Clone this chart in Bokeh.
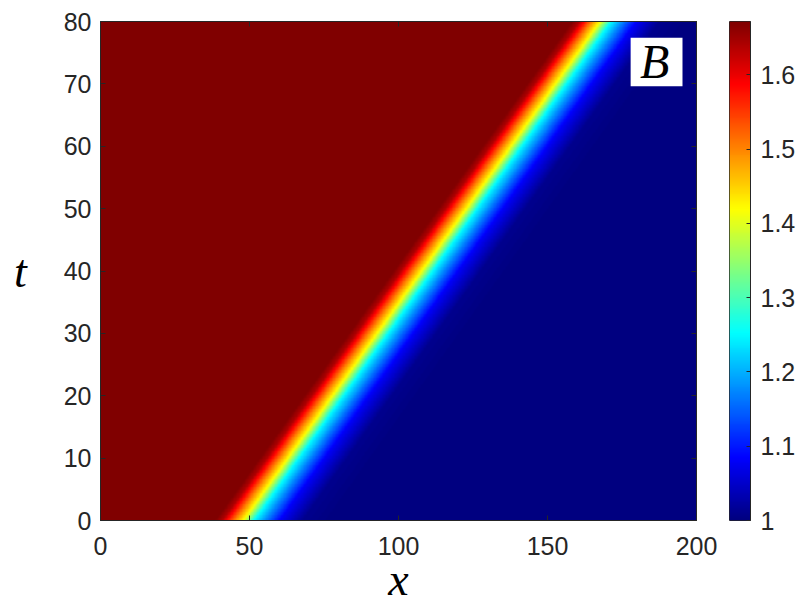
import numpy as np
from bokeh.plotting import figure
from bokeh.layouts import row
from bokeh.models import (LinearColorMapper, FixedTicker, LinearAxis, Label,
                          BoxAnnotation, Range1d, CustomJSTickFormatter)
from bokeh.embed import file_html
from bokeh.resources import INLINE

# ---- data ----
x_min, x_max = 0, 200
t_min, t_max = 0, 80
b_low, b_high = 1.0, 1.672
# front (yellow centre) position at t = 0 and t = 80
front_t = [0, 80]
front_x = [48.0, 167.5]
# profile of B across the front, versus distance from the front centre
profile_offset = [-9.5, -7.0, -5.5, -2.7, 0.0, 3.8, 7.7, 12.4, 20.0, 30.0]
profile_value = [1.672, 1.64, 1.59, 1.50, 1.42, 1.25, 1.17, 1.08, 1.01, 1.0]
x_ticks = [0, 50, 100, 150, 200]
t_ticks = [0, 10, 20, 30, 40, 50, 60, 70, 80]
cb_ticks = [1, 1.1, 1.2, 1.3, 1.4, 1.5, 1.6]

# ---- jet colormap ----
def jet(n=256):
    cols = []
    for i in range(n):
        f = i / (n - 1)
        r = min(max(1.5 - abs(4 * f - 3), 0), 1)
        g = min(max(1.5 - abs(4 * f - 2), 0), 1)
        b = min(max(1.5 - abs(4 * f - 1), 0), 1)
        cols.append("#%02x%02x%02x" % (int(round(r * 255)), int(round(g * 255)), int(round(b * 255))))
    return cols

palette = jet(256)
mapper = LinearColorMapper(palette=palette, low=b_low, high=b_high)

# ---- field ----
nx, nt = 800, 320
xs = np.linspace(x_min, x_max, nx)
ts = np.linspace(t_min, t_max, nt)
X, T = np.meshgrid(xs, ts)
centre = np.interp(T, front_t, front_x)
B = np.interp(X - centre, profile_offset, profile_value)

TXT = "#262626"
FONT = "Liberation Sans"
H = 610

def style_axis(ax, labels=True):
    ax.axis_line_color = TXT
    ax.major_tick_line_color = TXT
    ax.minor_tick_line_color = None
    ax.major_tick_in = 5
    ax.major_tick_out = 0
    ax.major_label_text_color = TXT
    ax.major_label_text_font = FONT
    if labels:
        ax.major_label_text_font_size = "25px"
    else:
        ax.major_label_text_font_size = "1px"
        ax.major_label_standoff = 0
        ax.formatter = CustomJSTickFormatter(code="return '';")

p = figure(width=718, height=H, x_range=Range1d(x_min, x_max), y_range=Range1d(t_min, t_max),
           output_backend="svg", toolbar_location=None,
           min_border_left=100, min_border_right=22, min_border_top=21, min_border_bottom=H - 21 - 499)
p.grid.visible = False
p.outline_line_color = TXT
p.image(image=[B], x=x_min, y=t_min, dw=x_max - x_min, dh=t_max - t_min, color_mapper=mapper)

p.xaxis.ticker = FixedTicker(ticks=x_ticks)
p.yaxis.ticker = FixedTicker(ticks=t_ticks)
style_axis(p.xaxis[0])
style_axis(p.yaxis[0])
p.xaxis.major_label_standoff = 16
p.yaxis.major_label_standoff = 9

for ax in (p.xaxis[0], p.yaxis[0]):
    ax.axis_label_text_font = "Liberation Serif"
    ax.axis_label_text_font_style = "italic"
    ax.axis_label_text_font_size = "46px"
    ax.axis_label_text_color = "black"
p.xaxis.axis_label = "x"
p.xaxis.axis_label_standoff = -4
p.yaxis.axis_label = "t"
p.yaxis.axis_label_orientation = "horizontal"
p.yaxis.axis_label_standoff = 34

top_ax = LinearAxis(ticker=FixedTicker(ticks=x_ticks))
right_ax = LinearAxis(ticker=FixedTicker(ticks=t_ticks))
style_axis(top_ax, labels=False)
style_axis(right_ax, labels=False)
p.add_layout(top_ax, "above")
p.add_layout(right_ax, "right")

p.add_layout(BoxAnnotation(left=177.9, right=195.3, top=77.4, bottom=69.6,
                           fill_color="white", fill_alpha=1.0, line_color=None))
p.add_layout(Label(x=186.0, y=73.6, text="B", text_font="Liberation Serif",
                   text_font_style="italic", text_font_size="48px", text_color="black",
                   text_align="center", text_baseline="middle"))

# ---- colorbar ----
cb = figure(width=82, height=H, x_range=Range1d(0, 1), y_range=Range1d(b_low, b_high),
            output_backend="svg", toolbar_location=None, x_axis_location=None,
            y_axis_location="right",
            min_border_left=11, min_border_right=50, min_border_top=21, min_border_bottom=H - 21 - 499)
cb.grid.visible = False
cb.outline_line_color = TXT
grad = np.linspace(b_low, b_high, 256).reshape(-1, 1)
cb.image(image=[grad], x=0, y=b_low, dw=1, dh=b_high - b_low, color_mapper=mapper)
cb.yaxis.ticker = FixedTicker(ticks=cb_ticks)
style_axis(cb.yaxis[0])
cb.yaxis.major_tick_in = 4
cb.yaxis.major_label_standoff = 10
cb.yaxis.formatter = CustomJSTickFormatter(code="return (Math.round(tick*10)/10).toString();")

layout = row(p, cb)
open("out.html", "w").write(file_html(layout, INLINE))
